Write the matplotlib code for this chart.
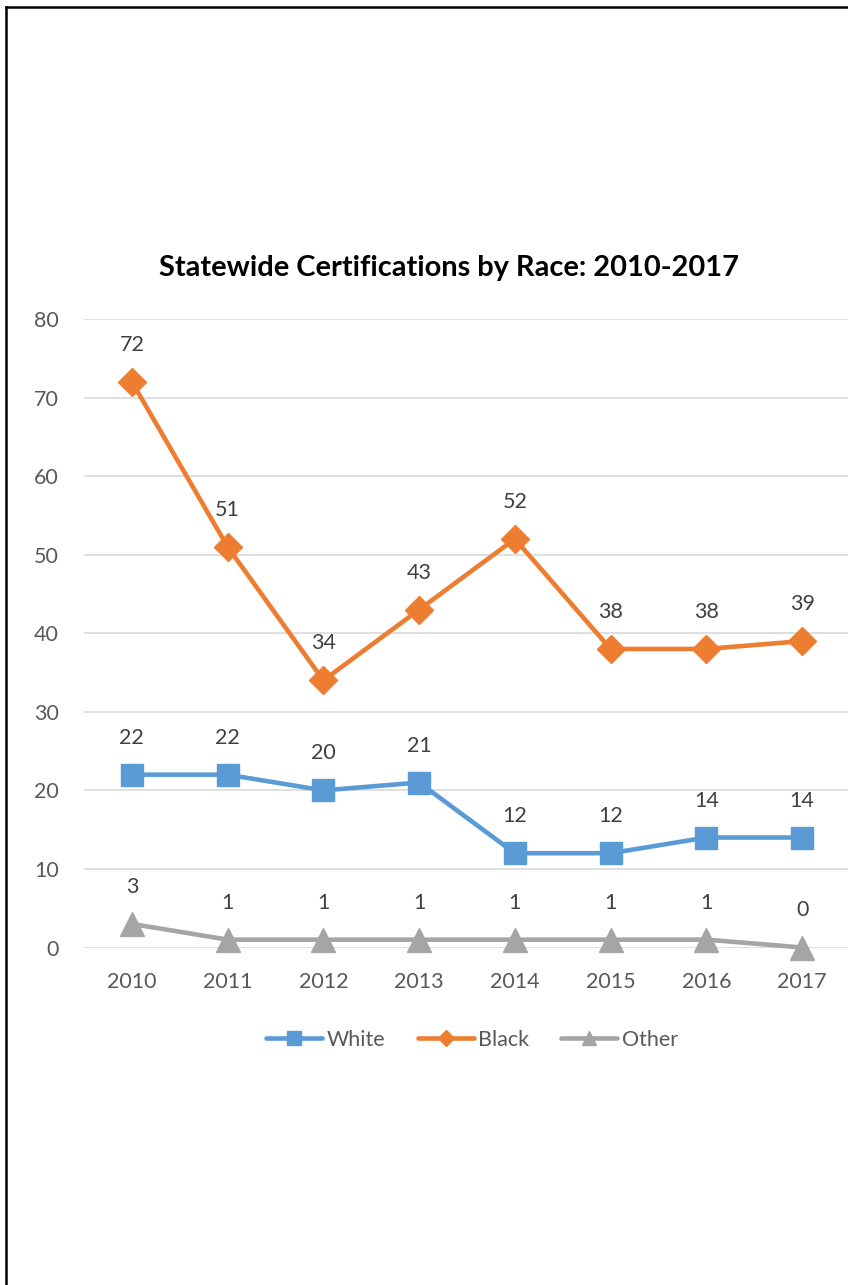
import matplotlib
matplotlib.use("Agg")
import matplotlib.pyplot as plt
from matplotlib.lines import Line2D

years = ["2010", "2011", "2012", "2013", "2014", "2015", "2016", "2017"]
white = [22, 22, 20, 21, 12, 12, 14, 14]
black = [72, 51, 34, 43, 52, 38, 38, 39]
other = [3, 1, 1, 1, 1, 1, 1, 0]
series_names = ["White", "Black", "Other"]
title = "Statewide Certifications by Race: 2010-2017"
yticks = [0, 10, 20, 30, 40, 50, 60, 70, 80]

FONT = "Lato"
FS = 15.5
W, H = 848, 1285
DPI = 100
fig = plt.figure(figsize=(W / DPI, H / DPI), dpi=DPI)
fig.patch.set_facecolor("white")

left_px, right_px = 84, 850
top_px, bot_px = 319, 947.5
ax = fig.add_axes([left_px / W, 1 - bot_px / H, (right_px - left_px) / W, (bot_px - top_px) / H])

x = list(range(len(years)))
styles = [
    (white, "#5B9BD5", "s", 16),
    (black, "#ED7D31", "D", 14),
    (other, "#A5A5A5", "^", 17),
]
handles = []
for (vals, col, mk, ms), name in zip(styles, series_names):
    h, = ax.plot(x, vals, color=col, lw=3.3, marker=mk, markersize=ms,
                 markerfacecolor=col, markeredgecolor=col, label=name,
                 solid_capstyle="round", solid_joinstyle="round", zorder=3,
                 clip_on=False)
    handles.append(h)
    for xi, v in zip(x, vals):
        ax.annotate(str(v), (xi, v), xytext=(0, 37), textcoords="offset pixels",
                    ha="center", va="center", fontsize=FS, color="#404040",
                    family=FONT)

ax.set_xlim(-0.5, 7.5)
ax.set_ylim(0, 80)
ax.set_yticks(yticks)
ax.set_xticks(x)
ax.set_xticklabels(years)
ax.grid(axis="y", color="#D9D9D9", lw=1.2)
ax.set_axisbelow(True)
for s in ax.spines.values():
    s.set_visible(False)
ax.tick_params(axis="both", length=0, labelsize=FS, labelcolor="#595959")
ax.tick_params(axis="y", pad=18)
ax.tick_params(axis="x", pad=18)
for lab in ax.get_xticklabels() + ax.get_yticklabels():
    lab.set_family(FONT)

# title, sized to match the reference width
t = fig.text(449 / W, 1 - 268 / H, title, ha="center", va="center",
             fontsize=18, fontweight="bold", color="#000000", family=FONT)
fig.canvas.draw()
bb = t.get_window_extent()
t.set_fontsize(18 * 582 / bb.width)

leg = fig.legend(handles=handles, loc="center", bbox_to_anchor=(472 / W, 1 - 1040 / H),
                 ncol=3, frameon=False, handlelength=2.6, handletextpad=0.2,
                 columnspacing=1.5, markerscale=0.6,
                 prop={"family": FONT, "size": FS})
for txt in leg.get_texts():
    txt.set_color("#595959")

# page border (left and top edges)
fig.add_artist(Line2D([6 / W, 6 / W], [1 - 7 / H, 0], transform=fig.transFigure,
                      color="black", lw=1.8, solid_capstyle="projecting"))
fig.add_artist(Line2D([6 / W, 1], [1 - 7 / H, 1 - 7 / H], transform=fig.transFigure,
                      color="black", lw=1.8, solid_capstyle="projecting"))

fig.savefig("out.png", dpi=DPI)
